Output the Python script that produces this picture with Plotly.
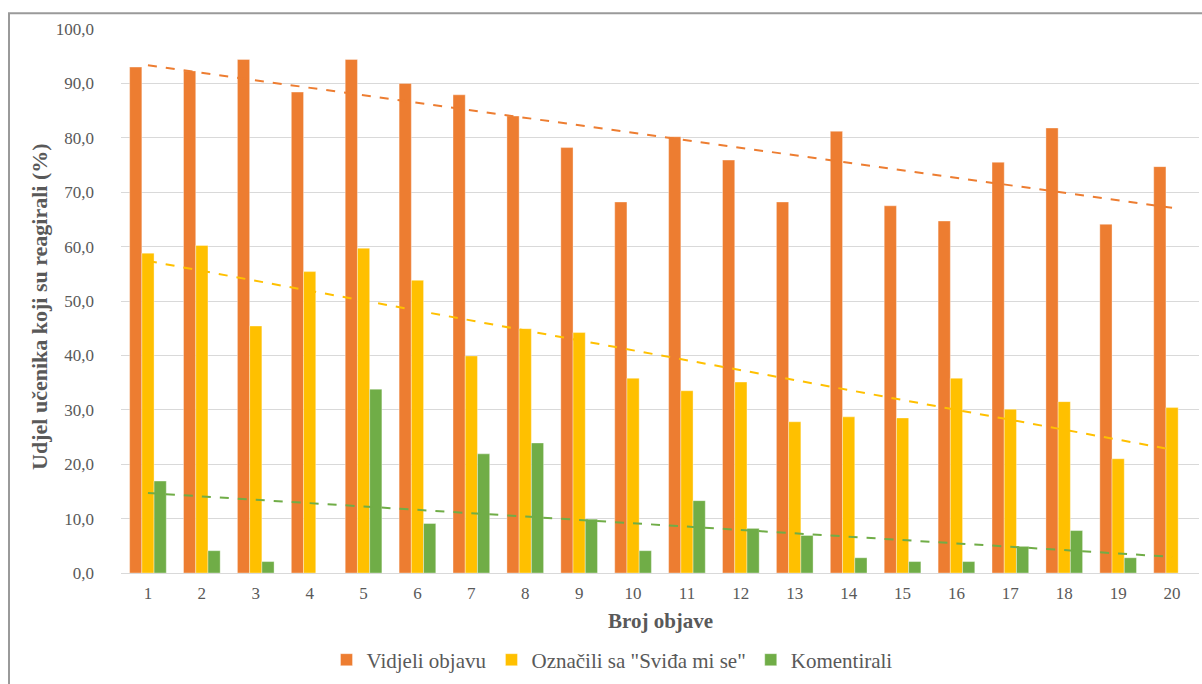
import numpy as np
import plotly.graph_objects as go

categories = [str(i) for i in range(1, 21)]
vidjeli = [93.0, 92.3, 94.4, 88.4, 94.4, 90.0, 87.9, 84.0, 78.2, 68.2,
           80.2, 75.9, 68.2, 81.2, 67.5, 64.7, 75.5, 81.8, 64.1, 74.7]
oznacili = [58.8, 60.2, 45.4, 55.4, 59.7, 53.8, 39.9, 44.9, 44.2, 35.8,
            33.5, 35.1, 27.8, 28.7, 28.5, 35.8, 30.1, 31.5, 21.0, 30.4]
komentirali = [16.9, 4.1, 2.1, 0.0, 33.8, 9.1, 21.9, 23.9, 9.9, 4.1,
               13.3, 8.2, 6.9, 2.8, 2.1, 2.1, 4.9, 7.8, 2.8, 0.0]
y_ticks = [0, 10, 20, 30, 40, 50, 60, 70, 80, 90, 100]

series = [
    ("Vidjeli objavu", vidjeli, "#ED7D31"),
    ('Označili sa "Sviđa mi se"', oznacili, "#FFC000"),
    ("Komentirali", komentirali, "#70AD47"),
]

FONT = "Liberation Serif"
GREY = "#595959"

fig = go.Figure()
for name, vals, col in series:
    fig.add_trace(go.Bar(x=categories, y=vals, name=name, marker_color=col,
                         marker_line_width=0.6, marker_line_color="rgba(255,255,255,0.6)"))

idx = np.arange(1, 21)
for name, vals, col in series:
    k, b = np.polyfit(idx, np.array(vals), 1)
    fig.add_trace(go.Scatter(x=categories, y=k * idx + b, mode="lines",
                             line=dict(color=col, width=2, dash="dash"),
                             showlegend=False, hoverinfo="skip"))

W, H = 1202, 684
ml, mr, mt, mb = 121, 3, 29, 105
pw, ph = W - ml - mr, H - mt - mb

def px(x):
    return (x - ml) / pw

def py(y):
    return (H - mb - y) / ph

fig.update_layout(
    width=W, height=H,
    margin=dict(l=ml, r=mr, t=mt, b=mb, pad=0),
    paper_bgcolor="white", plot_bgcolor="white",
    barmode="group", bargap=0.32, bargroupgap=0,
    separators=", ",
    font=dict(family=FONT, color=GREY, size=17),
    showlegend=True,
    legend=dict(orientation="h", x=px(612), xanchor="center", y=py(667), yanchor="middle",
                font=dict(size=21, color=GREY, family=FONT), itemwidth=30,
                bgcolor="rgba(0,0,0,0)"),
    xaxis=dict(showgrid=False, showline=True, linecolor="#d9d9d9", linewidth=1,
               ticks="", tickfont=dict(size=17, color=GREY, family=FONT), ticklabelstandoff=5),
    yaxis=dict(range=[0, 100], tickvals=y_ticks, tickformat=".1f",
               showgrid=True, gridcolor="#d9d9d9", gridwidth=1, zeroline=False,
               showline=False, ticks="", tickfont=dict(size=17, color=GREY, family=FONT),
               ticklabelstandoff=26),
    annotations=[
        dict(text="<b>Broj objave</b>", xref="paper", yref="paper", x=0.5, y=py(628),
             xanchor="center", yanchor="middle", showarrow=False,
             font=dict(size=21, color=GREY, family=FONT)),
        dict(text="<b>Udjel učenika koji su reagirali (%)</b>", xref="paper", yref="paper",
             x=px(40), y=py(310), xanchor="center", yanchor="middle", textangle=-90,
             showarrow=False, font=dict(size=22, color=GREY, family=FONT)),
    ],
    shapes=[
        dict(type="rect", xref="paper", yref="paper", x0=px(9), y0=py(H + 20),
             x1=px(W + 20), y1=py(13), line=dict(color="#9a9a9a", width=2),
             fillcolor="rgba(0,0,0,0)", layer="below"),
    ],
)

fig.write_html("out.html", config={"displayModeBar": False},
               post_script="document.body.style.margin='0';document.body.style.overflow='hidden';")
